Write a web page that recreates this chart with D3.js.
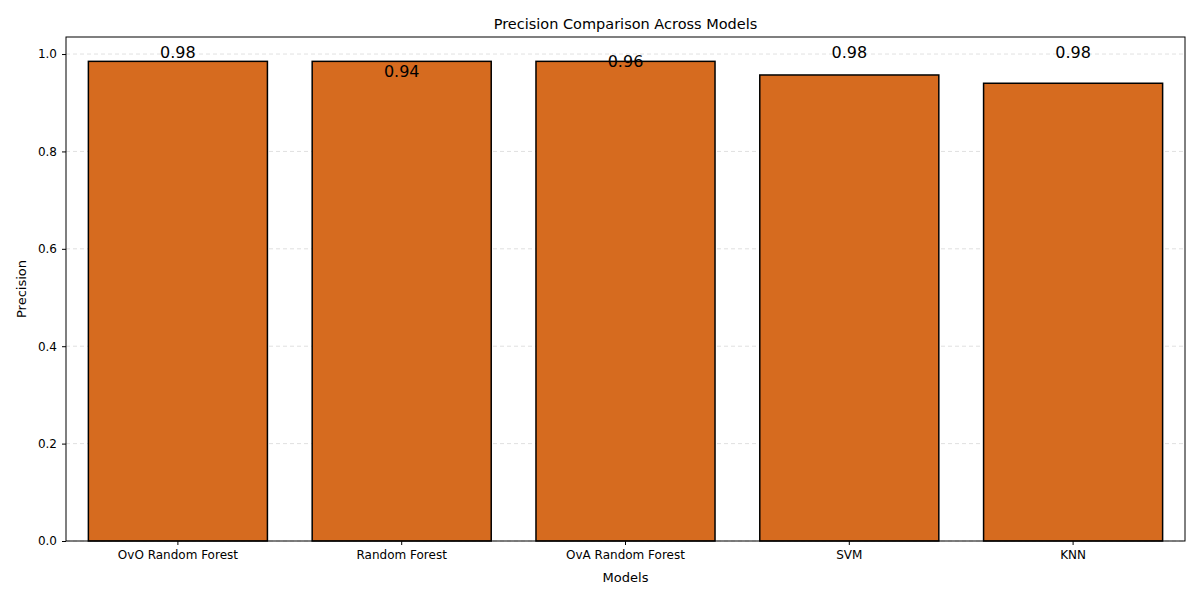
<!DOCTYPE html>
<html><head><meta charset="utf-8">
<script src="https://cdn.jsdelivr.net/npm/d3@7"></script>
<style>body{margin:0;background:#fff}text{font-family:"DejaVu Sans",sans-serif}</style>
</head><body><svg id="c" width="1200" height="600"></svg>
<script>
const models = ["OvO Random Forest","Random Forest","OvA Random Forest","SVM","KNN"];
const precision = [0.985,0.985,0.985,0.957,0.940];
const labels = [0.98,0.94,0.96,0.98,0.98];
const yTicks = [0,0.2,0.4,0.6,0.8,1.0];

const svg = d3.select("#c");
const m = {l:66, r:1185, t:37, b:541};
const x = d3.scaleBand().domain(models).range([m.l,m.r]).paddingInner(0.2).paddingOuter(0.1);
const y = d3.scaleLinear().domain([0,1.035]).range([m.b,m.t]);

svg.append("g").selectAll("line").data(yTicks).join("line")
  .attr("x1",m.l).attr("x2",m.r).attr("y1",d=>y(d)).attr("y2",d=>y(d))
  .attr("stroke","#ccc").attr("stroke-opacity",0.6).attr("stroke-dasharray","4,3");

svg.append("g").selectAll("rect").data(models).join("rect")
  .attr("x",d=>x(d)).attr("width",x.bandwidth())
  .attr("y",(d,i)=>y(precision[i])).attr("height",(d,i)=>m.b-y(precision[i]))
  .attr("fill","#d66b1f").attr("stroke","#000").attr("stroke-width",1.5);

svg.append("g").selectAll("text").data(models).join("text")
  .attr("x",d=>x(d)+x.bandwidth()/2).attr("y",(d,i)=>y(labels[i]+0.022))
  .attr("text-anchor","middle").attr("dominant-baseline","middle")
  .attr("font-size",16).text((d,i)=>labels[i].toFixed(2));

const ax = svg.append("g").attr("transform",`translate(0,${m.b})`)
  .call(d3.axisBottom(x).tickSizeOuter(0).tickSize(4).tickPadding(5));
ax.selectAll("text").attr("font-size",12).attr("fill","#000");
const ay = svg.append("g").attr("transform",`translate(${m.l},0)`)
  .call(d3.axisLeft(y).tickValues(yTicks).tickFormat(d3.format(".1f")).tickSizeOuter(0).tickSize(4).tickPadding(5));
ay.selectAll("text").attr("font-size",12).attr("fill","#000");
ax.select(".domain").remove(); ay.select(".domain").remove();
svg.append("rect").attr("x",m.l).attr("y",m.t).attr("width",m.r-m.l).attr("height",m.b-m.t)
  .attr("fill","none").attr("stroke","#000").attr("stroke-width",1);

svg.append("text").attr("x",(m.l+m.r)/2).attr("y",29).attr("text-anchor","middle").attr("font-size",14.5).text("Precision Comparison Across Models");
svg.append("text").attr("x",(m.l+m.r)/2).attr("y",582).attr("text-anchor","middle").attr("font-size",13).text("Models");
svg.append("text").attr("transform",`translate(26,${(m.t+m.b)/2}) rotate(-90)`).attr("text-anchor","middle").attr("font-size",13).text("Precision");
</script></body></html>
